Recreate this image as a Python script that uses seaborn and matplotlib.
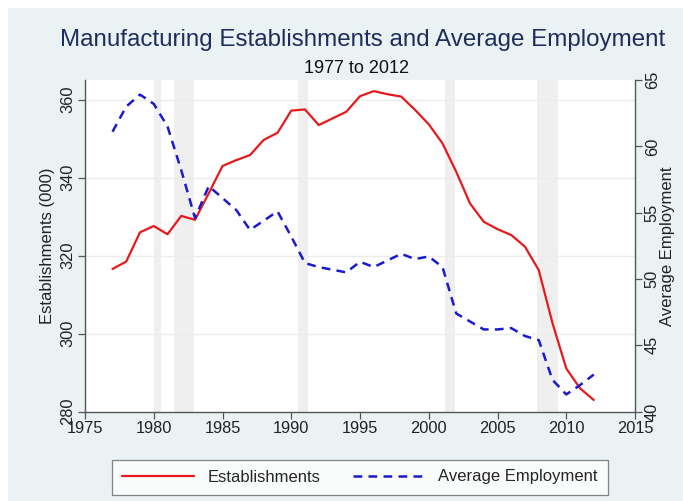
import matplotlib
matplotlib.use("Agg")
import matplotlib.pyplot as plt
import seaborn as sns
import pandas as pd
from matplotlib.patches import Rectangle
from matplotlib.lines import Line2D

years = list(range(1977, 2013))
establishments = [316.6, 318.5, 326.0, 327.6, 325.5, 330.2, 329.2, 336.0, 343.0, 344.5,
                  345.8, 349.7, 351.5, 357.2, 357.5, 353.5, 355.2, 356.9, 360.9, 362.2,
                  361.4, 360.8, 357.4, 353.7, 348.8, 341.5, 333.4, 328.7, 326.8, 325.3,
                  322.3, 316.3, 302.7, 291.1, 286.0, 283.0]
avg_employment = [61.1, 63.0, 63.9, 63.2, 61.5, 58.2, 54.6, 57.0, 56.1, 55.2,
                  53.7, 54.4, 55.1, 53.2, 51.2, 50.9, 50.7, 50.5, 51.3, 50.9,
                  51.4, 51.9, 51.5, 51.7, 50.9, 47.4, 46.8, 46.2, 46.2, 46.3,
                  45.7, 45.4, 42.4, 41.3, 42.0, 42.8]
recession_start = [1980.0, 1981.5, 1990.5, 2001.2, 2007.9]
recession_end = [1980.5, 1982.9, 1991.2, 2001.9, 2009.4]
x_ticks = [1975, 1980, 1985, 1990, 1995, 2000, 2005, 2010, 2015]
left_ticks = [280, 300, 320, 340, 360]
right_ticks = [40, 45, 50, 55, 60, 65]

df = pd.DataFrame({"year": years, "establishments": establishments,
                   "avg_employment": avg_employment})

sns.set_theme(style="white")
plt.rcParams["font.family"] = ["Liberation Sans", "DejaVu Sans"]

BG = "#eaf2f3"
fig = plt.figure(figsize=(6.83, 5.01), dpi=100, facecolor="white")
fig.patches.append(Rectangle((8 / 683, 0), 1, 1 - 8 / 501, transform=fig.transFigure,
                             facecolor=BG, edgecolor="none", zorder=-10))

ax = fig.add_axes([85 / 683, (501 - 411.7) / 501, 550 / 683, 331.7 / 501])
ax.set_facecolor("white")
for s, e in zip(recession_start, recession_end):
    ax.axvspan(s, e, color="#efefef", lw=0, zorder=0)

ax.set_xlim(1975, 2015)
ax.set_ylim(280, 365.05)
ax.set_yticks(left_ticks)
ax.set_xticks(x_ticks)
for t in left_ticks[1:]:
    ax.axhline(t, color="#ececec", lw=1.0, zorder=0.5)

sns.lineplot(data=df, x="year", y="establishments", ax=ax, color="#e8191c",
             lw=1.6, zorder=3)

ax2 = ax.twinx()
sns.lineplot(data=df, x="year", y="avg_employment", ax=ax2, color="#1a1acf",
             lw=1.8, linestyle=(0, (3.5, 2.5)), zorder=3)
ax2.set_ylim(40, 65)
ax2.set_yticks(right_ticks)
ax2.set_xlim(1975, 2015)

spine_c = "#555555"
for a in (ax, ax2):
    a.spines["top"].set_visible(False)
    for sp in ("left", "right", "bottom"):
        a.spines[sp].set_color(spine_c)
        a.spines[sp].set_linewidth(1.0)
ax.spines["right"].set_visible(False)
ax2.spines["left"].set_visible(False)
ax2.spines["bottom"].set_visible(False)

ax.tick_params(axis="both", direction="out", length=5, width=0.9, color=spine_c,
               labelsize=11.8, labelcolor="#222222", pad=2)
ax.tick_params(axis="x", bottom=True)
ax.tick_params(axis="y", left=True)
ax2.tick_params(axis="y", direction="out", length=5, width=0.9, color=spine_c,
                labelsize=11.8, labelcolor="#222222", right=True, pad=2)
for lab in ax.get_yticklabels():
    lab.set_rotation(90)
    lab.set_va("center")
for lab in ax2.get_yticklabels():
    lab.set_rotation(90)
    lab.set_va("center")

ax.set_xlabel("")
ax.set_ylabel("Establishments (000)", fontsize=12, color="#222222", labelpad=4)
ax2.set_ylabel("Average Employment", fontsize=12, color="#222222", labelpad=0)

fig.text(0.531, 0.92, "Manufacturing Establishments and Average Employment",
         ha="center", va="center", fontsize=17.4, color="#1f2d5c")
fig.text(0.522, 0.864, "1977 to 2012", ha="center", va="center", fontsize=13,
         color="#111111")

handles = [Line2D([], [], color="#e8191c", lw=1.6),
           Line2D([], [], color="#1a1acf", lw=1.8, linestyle=(0, (3.5, 2.5)))]
leg = fig.legend(handles, ["Establishments", "Average Employment"], ncol=2,
                 loc="center", bbox_to_anchor=(360 / 683, (501 - 477) / 501),
                 fontsize=12, frameon=True, fancybox=False, edgecolor="#666666",
                 handlelength=4.3, columnspacing=2.0, borderpad=0.6)
leg.get_frame().set_linewidth(0.9)

fig.savefig("out.png", dpi=100, facecolor=fig.get_facecolor())
